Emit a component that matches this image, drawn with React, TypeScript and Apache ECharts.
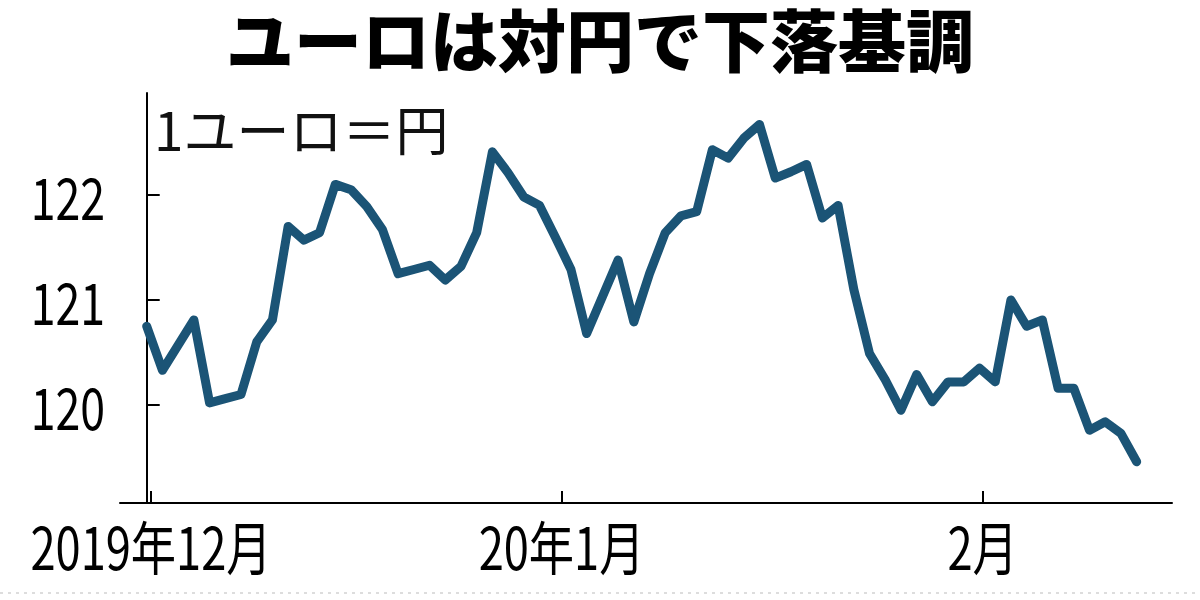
import React, { useEffect, useRef } from "react";
import * as echarts from "echarts";

const title = "ユーロは対円で下落基調";
const unitLabel = "1ユーロ＝円";

// daily EUR/JPY rates (index = trading day)
const rates = [
  120.75, 120.33, 120.57, 120.81, 120.02, 120.06, 120.1, 120.6, 120.81, 121.7,
  121.57, 121.64, 122.1, 122.05, 121.89, 121.67, 121.25, 121.29, 121.33, 121.19,
  121.32, 121.64, 122.41, 122.21, 121.98, 121.9, 121.6, 121.29, 120.68, 121.03,
  121.38, 120.79, 121.25, 121.64, 121.8, 121.84, 122.43, 122.35, 122.54, 122.67,
  122.16, 122.22, 122.29, 121.78, 121.9, 121.1, 120.49, 120.24, 119.95, 120.29,
  120.03, 120.22, 120.22, 120.35, 120.22, 121.0, 120.75, 120.81, 120.16, 120.16,
  119.76, 119.84, 119.73, 119.46,
];

// month boundaries on the trading-day scale
const monthTickPos = [0.27, 26.4, 53.2];
const monthLabels = ["2019年12月", "20年1月", "2月"];

const yTicks = [120, 121, 122];
const yTickLabels = ["120", "121", "122"];

const X_MIN = -1.7;
const X_MAX = 65.25;
const Y_MIN = 119.067;
const Y_MAX = 122.97;

export default function App() {
  const ref = useRef<HTMLDivElement>(null);
  useEffect(() => {
    if (!ref.current) return;
    const chart = echarts.init(ref.current, undefined, { renderer: "svg" });
    const jp = "'Noto Sans CJK JP', sans-serif";
    chart.setOption({
      animation: false,
      backgroundColor: "#ffffff",
      grid: { left: 120, right: 28, top: 93, bottom: 97 },
      xAxis: {
        type: "value",
        min: X_MIN,
        max: X_MAX,
        splitLine: { show: false },
        axisLine: { show: true, lineStyle: { color: "#000", width: 2 } },
        axisTick: {
          show: true,
          inside: true,
          length: 12,
          customValues: monthTickPos,
          lineStyle: { color: "#000", width: 2 },
        },
        axisLabel: { show: false },
      },
      yAxis: {
        type: "value",
        min: Y_MIN,
        max: Y_MAX,
        splitLine: { show: false },
        axisLine: { show: true, lineStyle: { color: "#000", width: 2 } },
        axisTick: {
          show: true,
          inside: true,
          length: 13,
          customValues: yTicks,
          lineStyle: { color: "#000", width: 2 },
        },
        axisLabel: { show: false },
      },
      series: [
        {
          type: "line",
          data: rates.map((v, i) => [i, v]),
          showSymbol: false,
          lineStyle: { color: "#1b5476", width: 9, cap: "round", join: "round" },
        },
      ],
    });

    // condensed tick labels placed at the axes' own pixel positions
    const labelStyle = {
      fontFamily: jp,
      fontSize: 58,
      lineHeight: 60,
      fill: "#000",
    };
    const axisBottom = chart.convertToPixel({ yAxisIndex: 0 }, Y_MIN) as number;
    const axisLeft = chart.convertToPixel({ xAxisIndex: 0 }, X_MIN) as number;
    const xLabelEls = monthTickPos.map((p, i) => ({
      type: "text",
      x: chart.convertToPixel({ xAxisIndex: 0 }, p) as number,
      y: axisBottom + 42,
      scaleX: 0.78,
      style: {
        ...labelStyle,
        text: monthLabels[i],
        x: 0,
        y: 0,
        align: "center",
        verticalAlign: "middle",
      },
    }));
    const yLabelEls = yTicks.map((t, i) => ({
      type: "text",
      x: axisLeft - 15,
      y: chart.convertToPixel({ yAxisIndex: 0 }, t) as number,
      scaleX: 0.77,
      style: {
        ...labelStyle,
        text: yTickLabels[i],
        x: 0,
        y: 0,
        align: "right",
        verticalAlign: "middle",
      },
    }));

    chart.setOption({
      graphic: [
        {
          type: "text",
          x: 600,
          y: 37,
          style: {
            text: title,
            x: 0,
            y: 0,
            align: "center",
            verticalAlign: "middle",
            fontFamily: jp,
            fontWeight: 900,
            fontSize: 68,
            lineHeight: 68,
            fill: "#000",
          },
        },
        {
          type: "text",
          x: 154,
          y: 128,
          style: {
            text: unitLabel,
            x: 0,
            y: 0,
            verticalAlign: "middle",
            fontFamily: jp,
            fontSize: 53,
            lineHeight: 54,
            fill: "#111",
          },
        },
        {
          type: "line",
          shape: { x1: 0, y1: 593, x2: 1200, y2: 593 },
          style: { stroke: "#ddd", lineWidth: 2, lineDash: [3, 5] },
        },
        ...xLabelEls,
        ...yLabelEls,
      ],
    });
    return () => chart.dispose();
  }, []);
  return (
    <div
      ref={ref}
      style={{ position: "fixed", left: 0, top: 0, width: 1200, height: 600 }}
    />
  );
}
